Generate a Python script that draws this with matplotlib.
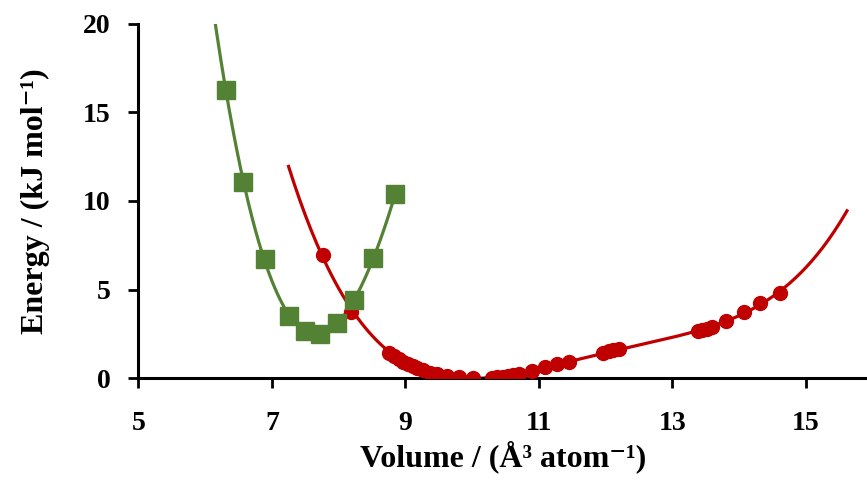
import numpy as np
import matplotlib.pyplot as plt

# green series (squares)
green_vol = [6.31, 6.57, 6.89, 7.26, 7.49, 7.72, 7.98, 8.23, 8.52, 8.85]
green_energy = [16.27, 11.09, 6.71, 3.52, 2.66, 2.47, 3.09, 4.41, 6.76, 10.40]

# red series (circles)
red_vol = [7.76, 8.19, 8.76, 8.83, 8.90, 8.97, 9.04, 9.11, 9.18, 9.27, 9.37,
           9.48, 9.63, 9.80, 10.02, 10.30, 10.38, 10.46, 10.54, 10.62, 10.70,
           10.90, 11.10, 11.28, 11.45, 11.97, 12.05, 12.12, 12.20, 13.38, 13.45,
           13.52, 13.60, 13.80, 14.07, 14.32, 14.61]
red_energy = [6.95, 3.75, 1.40, 1.22, 1.06, 0.92, 0.79, 0.66, 0.55, 0.43, 0.31,
              0.21, 0.11, 0.04, 0.00, 0.02, 0.05, 0.08, 0.12, 0.17, 0.23,
              0.42, 0.62, 0.77, 0.92, 1.42, 1.50, 1.56, 1.64, 2.66, 2.72,
              2.79, 2.86, 3.24, 3.71, 4.21, 4.83]

# trendline ranges (polynomial, order 4)
green_fit_range = (6.1, 8.85)
red_fit_range = (7.25, 15.62)

x_ticks = [5, 7, 9, 11, 13, 15]
y_ticks = [0, 5, 10, 15, 20]

RED = '#C00000'
GREEN = '#548235'

plt.rcParams['font.family'] = ['Liberation Serif', 'DejaVu Serif']
plt.rcParams['font.weight'] = 'bold'

fig = plt.figure(figsize=(8.67, 4.8), dpi=100)
ax = fig.add_axes([0.1597, 0.2125, 0.8403, 0.7375])

p_red = np.polyfit(red_vol, red_energy, 4)
xr = np.linspace(red_fit_range[0], red_fit_range[1], 300)
ax.plot(xr, np.polyval(p_red, xr), color=RED, lw=2.3, zorder=2)

p_green = np.polyfit(green_vol, green_energy, 4)
xg = np.linspace(green_fit_range[0], green_fit_range[1], 300)
ax.plot(xg, np.polyval(p_green, xg), color=GREEN, lw=2.3, zorder=2)

ax.plot(red_vol, red_energy, 'o', color=RED, ms=10, mec=RED, zorder=3)
ax.plot(green_vol, green_energy, 's', color=GREEN, ms=12.5, mec=GREEN, zorder=4)

ax.set_xlim(5, 15.92)
ax.set_ylim(0, 20)
ax.set_xticks(x_ticks)
ax.set_yticks(y_ticks)

for s in ['top', 'right']:
    ax.spines[s].set_visible(False)
for s in ['left', 'bottom']:
    ax.spines[s].set_linewidth(2.2)
    ax.spines[s].set_color('black')

ax.tick_params(axis='both', direction='out', length=7, width=2, labelsize=20)
ax.tick_params(axis='y', pad=13)
ax.tick_params(axis='x', pad=17)
for lab in ax.get_xticklabels() + ax.get_yticklabels():
    lab.set_fontweight('bold')

ax.set_xlabel('Volume / (Å³ atom⁻¹)', fontsize=23, fontweight='bold', labelpad=3)
ax.set_ylabel('Energy / (kJ mol⁻¹)', fontsize=23, fontweight='bold', labelpad=24)

fig.savefig('out.png', dpi=100)
